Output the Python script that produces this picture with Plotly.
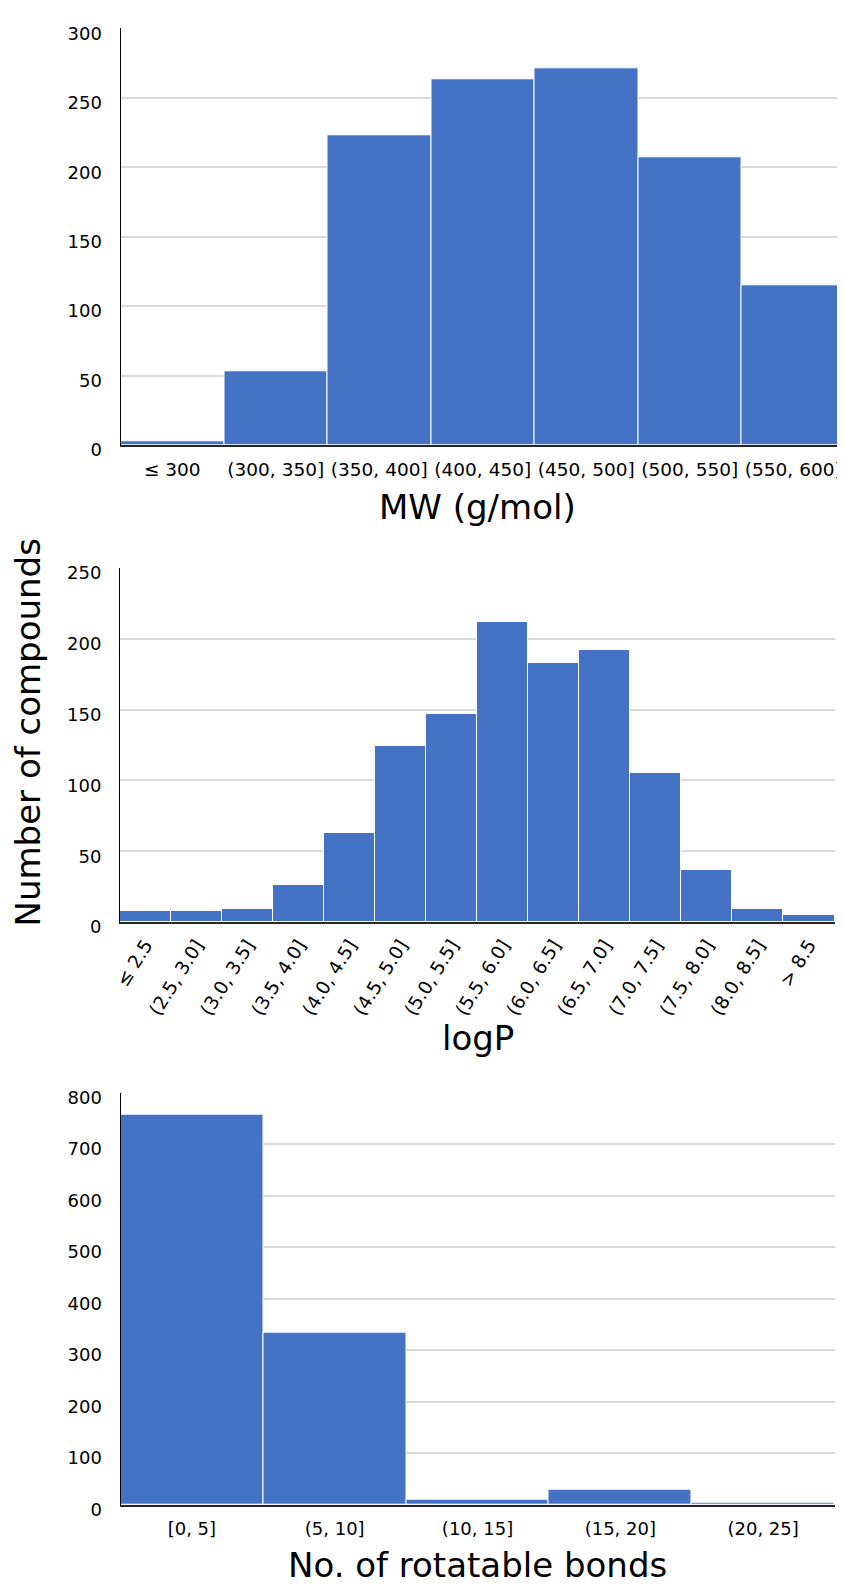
import plotly.graph_objects as go

mw_bins = ["≤ 300", "(300, 350]", "(350, 400]", "(400, 450]", "(450, 500]", "(500, 550]", "(550, 600]"]
mw_counts = [3, 53, 223, 263, 271, 207, 115]

logp_bins = ["≤ 2.5", "(2.5, 3.0]", "(3.0, 3.5]", "(3.5, 4.0]", "(4.0, 4.5]", "(4.5, 5.0]", "(5.0, 5.5]",
             "(5.5, 6.0]", "(6.0, 6.5]", "(6.5, 7.0]", "(7.0, 7.5]", "(7.5, 8.0]", "(8.0, 8.5]", "> 8.5"]
logp_counts = [8, 8, 9, 26, 63, 124, 147, 212, 183, 192, 105, 37, 9, 5]

rb_bins = ["[0, 5]", "(5, 10]", "(10, 15]", "(15, 20]", "(20, 25]"]
rb_counts = [758, 334, 10, 29, 3]

BAR = "#4472C4"
FONT = "DejaVu Sans"
OFF = 8  # default page body margin
W, H = 845 - OFF, 1587 - OFF
TICK = 18
TITLE = 34

fig = go.Figure()

def add_panel(idx, cats, vals):
    xa = "x" if idx == 1 else f"x{idx}"
    ya = "y" if idx == 1 else f"y{idx}"
    fig.add_trace(go.Bar(x=cats, y=vals, xaxis=xa, yaxis=ya,
                         marker=dict(color=BAR, line=dict(color="white", width=1)),
                         showlegend=False))

add_panel(1, mw_bins, mw_counts)
add_panel(2, logp_bins, logp_counts)
add_panel(3, rb_bins, rb_counts)

def py(px):
    return (H - (px - OFF)) / H

def pxx(px):
    return (px - OFF) / W

def tf(size):
    return dict(family=FONT, size=size, color="#000")

common_x = dict(showline=True, linecolor="#262626", linewidth=2, showgrid=False, zeroline=False,
                automargin=False, ticks="", fixedrange=True)
common_y = dict(showline=True, linecolor="#000", linewidth=1, showgrid=True, gridcolor="#d9d9d9",
                gridwidth=1.5, zeroline=False, automargin=False, ticks="", ticklabelstandoff=14,
                ticklabelshift=5, tickfont=tf(TICK), fixedrange=True)

fig.update_layout(
    template="none",
    width=W, height=H,
    margin=dict(l=0, r=0, t=0, b=0),
    paper_bgcolor="white", plot_bgcolor="white",
    bargap=0,
    font=dict(family=FONT, color="#000"),
    xaxis=dict(common_x, domain=[pxx(120.5), 1.0], anchor="y", ticklabelstandoff=7, tickfont=tf(18.5)),
    yaxis=dict(common_y, domain=[py(445), py(28.3)], anchor="x", range=[0, 300], dtick=50),
    xaxis2=dict(common_x, domain=[pxx(120), pxx(834.5)], anchor="y2", tickangle=-58,
                ticklabelstandoff=3, tickfont=tf(18.5)),
    yaxis2=dict(common_y, domain=[py(922), py(568)], anchor="x2", range=[0, 250], dtick=50),
    xaxis3=dict(common_x, domain=[pxx(120.5), pxx(834.5)], anchor="y3", ticklabelstandoff=7, tickfont=tf(18)),
    yaxis3=dict(common_y, domain=[py(1504.5), py(1092.7)], anchor="x3", range=[0, 800], dtick=100),
)

ann = dict(xref="paper", yref="paper", showarrow=False, font=dict(family=FONT, size=TITLE, color="#000"),
           xanchor="center", yanchor="middle")
fig.add_annotation(ann, text="MW (g/mol)", x=pxx(477), y=py(507))
fig.add_annotation(ann, text="logP", x=pxx(478), y=py(1038))
fig.add_annotation(ann, text="No. of rotatable bonds", x=pxx(477.5), y=0, yanchor="bottom")
fig.add_annotation(ann, text="Number of compounds", x=pxx(27), y=py(732.5), textangle=-90)

fig.write_html("out.html")
